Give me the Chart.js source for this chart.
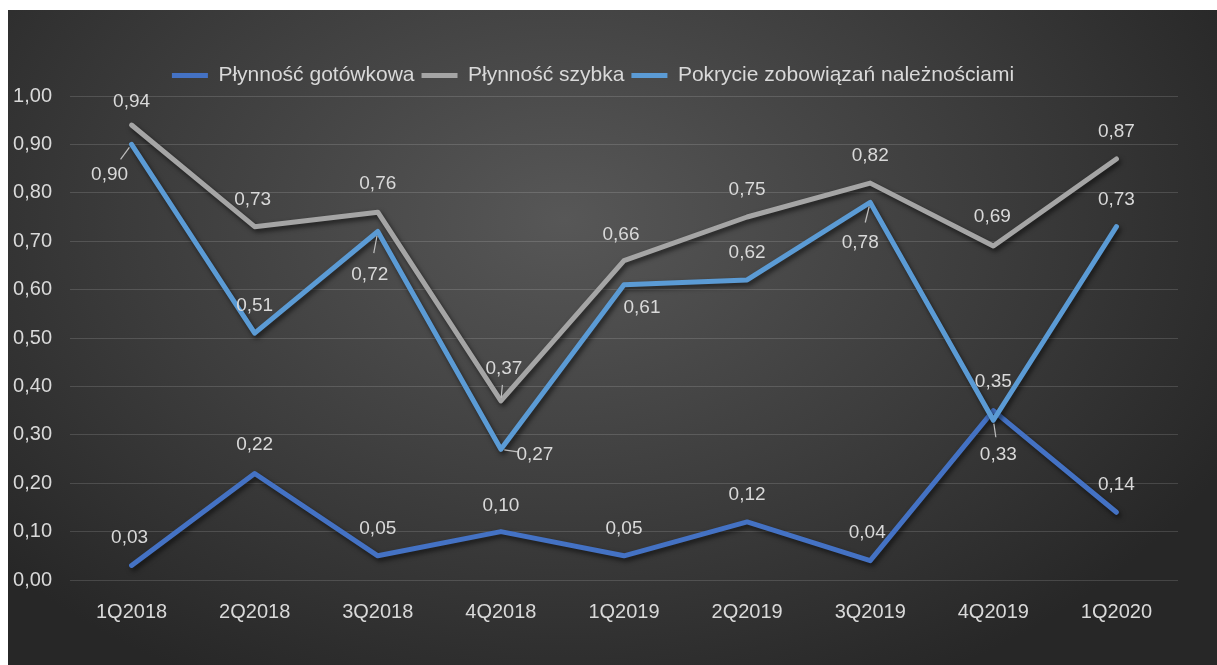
<!DOCTYPE html>
<html lang="pl">
<head>
<meta charset="utf-8">
<title>Płynność</title>
<script src="https://cdn.jsdelivr.net/npm/chart.js@4"></script>
<style>
    html, body { margin: 0; padding: 0; background: #ffffff; }
    #wrap {
        position: absolute;
        left: 8px;
        top: 10px;
        width: 1209px;
        height: 655px;
        background: radial-gradient(ellipse 62% 80% at 46% 32%, #575757 0%, #3d3d3d 55%, #272727 100%);
    }
</style>
</head>
<body>
<div id="wrap"><canvas id="liquidityChart"></canvas></div>
<script>
// chart data
const categories = ['1Q2018', '2Q2018', '3Q2018', '4Q2018', '1Q2019', '2Q2019', '3Q2019', '4Q2019', '1Q2020'];
const seriesNames = ['Płynność gotówkowa', 'Płynność szybka', 'Pokrycie zobowiązań należnościami'];
const cashLiquidity = [0.03, 0.22, 0.05, 0.10, 0.05, 0.12, 0.04, 0.35, 0.14];
const quickLiquidity = [0.94, 0.73, 0.76, 0.37, 0.66, 0.75, 0.82, 0.69, 0.87];
const receivablesCoverage = [0.90, 0.51, 0.72, 0.27, 0.61, 0.62, 0.78, 0.33, 0.73];
const yTicks = [0, 0.1, 0.2, 0.3, 0.4, 0.5, 0.6, 0.7, 0.8, 0.9, 1.0];

// where each data label sits relative to its point (px), and whether it gets a leader line
const cashLabelPos = [[-2, -28], [0, -29], [0, -27], [0, -26], [0, -27], [0, -27], [-3, -28], [0, -29], [0, -27]];
const quickLabelPos = [[0, -23], [-2, -27], [0, -28], [3, -32], [-3, -26], [0, -27], [0, -27], [-1, -29], [0, -27]];
const coverageLabelPos = [[-22, 30], [0, -27], [-8, 43], [34, 5], [18, 23], [0, -27], [-10, 40], [5, 34], [0, -27]];
const cashLeaders = [0, 0, 0, 0, 0, 0, 0, 0, 0];
const quickLeaders = [0, 0, 0, 1, 0, 0, 0, 0, 0];
const coverageLeaders = [1, 0, 1, 1, 0, 0, 1, 1, 0];

const textColor = '#d9d9d9';
const fontFamily = "'Liberation Sans', Arial, sans-serif";

const fmt = v => v.toFixed(2).replace('.', ',');

// soft drop shadow under the lines
const lineShadow = {
    id: 'lineShadow',
    beforeDatasetDraw(chart) {
        const ctx = chart.ctx;
        ctx.save();
        ctx.shadowColor = 'rgba(0, 0, 0, 0.6)';
        ctx.shadowBlur = 5;
        ctx.shadowOffsetX = 2;
        ctx.shadowOffsetY = 3;
    },
    afterDatasetDraw(chart) {
        chart.ctx.restore();
    }
};

// value labels
const valueLabels = {
    id: 'valueLabels',
    afterDatasetsDraw(chart) {
        const ctx = chart.ctx;
        ctx.save();
        ctx.font = '19px ' + fontFamily;
        ctx.fillStyle = textColor;
        ctx.strokeStyle = '#bfbfbf';
        ctx.lineWidth = 1.2;
        ctx.textAlign = 'center';
        ctx.textBaseline = 'middle';
        chart.data.datasets.forEach((ds, di) => {
            const meta = chart.getDatasetMeta(di);
            meta.data.forEach((pt, i) => {
                const [dx, dy] = ds.labelPos[i];
                const lx = pt.x + dx;
                const ly = pt.y + dy;
                if (ds.leaders[i]) {
                    ctx.beginPath();
                    ctx.moveTo(pt.x + dx * 0.1, pt.y + dy * 0.1);
                    ctx.lineTo(pt.x + dx * 0.5, pt.y + dy * 0.5);
                    ctx.stroke();
                }
                ctx.fillText(fmt(ds.data[i]), lx, ly);
            });
        });
        ctx.restore();
    }
};

function makeSet(label, data, color, labelPos, leaders, order) {
    return {
        label: label,
        data: data,
        borderColor: color,
        backgroundColor: color,
        borderWidth: 5,
        borderCapStyle: 'round',
        borderJoinStyle: 'round',
        pointRadius: 0,
        pointHoverRadius: 0,
        tension: 0,
        order: order,
        labelPos: labelPos,
        leaders: leaders
    };
}

const ctx = document.getElementById('liquidityChart').getContext('2d');

new Chart(ctx, {
    type: 'line',
    data: {
        labels: categories,
        datasets: [
            makeSet(seriesNames[0], cashLiquidity, '#4472c4', cashLabelPos, cashLeaders, 3),
            makeSet(seriesNames[1], quickLiquidity, '#a5a5a5', quickLabelPos, quickLeaders, 2),
            makeSet(seriesNames[2], receivablesCoverage, '#5b9bd5', coverageLabelPos, coverageLeaders, 1)
        ]
    },
    options: {
        responsive: true,
        maintainAspectRatio: false,
        animation: false,
        layout: { padding: { top: 48, right: 39, left: 0, bottom: 0 } },
        plugins: {
            tooltip: { enabled: false },
            legend: {
                position: 'top',
                labels: {
                    color: textColor,
                    font: { family: fontFamily, size: 21 },
                    usePointStyle: true,
                    pointStyle: 'line',
                    pointStyleWidth: 36,
                    boxHeight: 21,
                    padding: 7,
                    sort: (a, b) => a.datasetIndex - b.datasetIndex
                }
            }
        },
        scales: {
            x: {
                offset: true,
                grid: { display: false, drawTicks: false },
                border: { display: false },
                ticks: {
                    color: textColor,
                    font: { family: fontFamily, size: 20 },
                    padding: 20,
                    maxRotation: 0
                },
                afterFit(scale) { scale.height = 85; }
            },
            y: {
                min: 0,
                max: 1,
                afterBuildTicks(scale) {
                    scale.ticks = yTicks.map(v => ({ value: v }));
                },
                grid: { color: 'rgba(255, 255, 255, 0.14)', lineWidth: 1, drawTicks: false },
                border: { display: false },
                ticks: {
                    color: textColor,
                    font: { family: fontFamily, size: 20 },
                    padding: 18,
                    callback: v => fmt(v)
                },
                afterFit(scale) { scale.width = 62; }
            }
        }
    },
    plugins: [lineShadow, valueLabels]
});
</script>
</body>
</html>
